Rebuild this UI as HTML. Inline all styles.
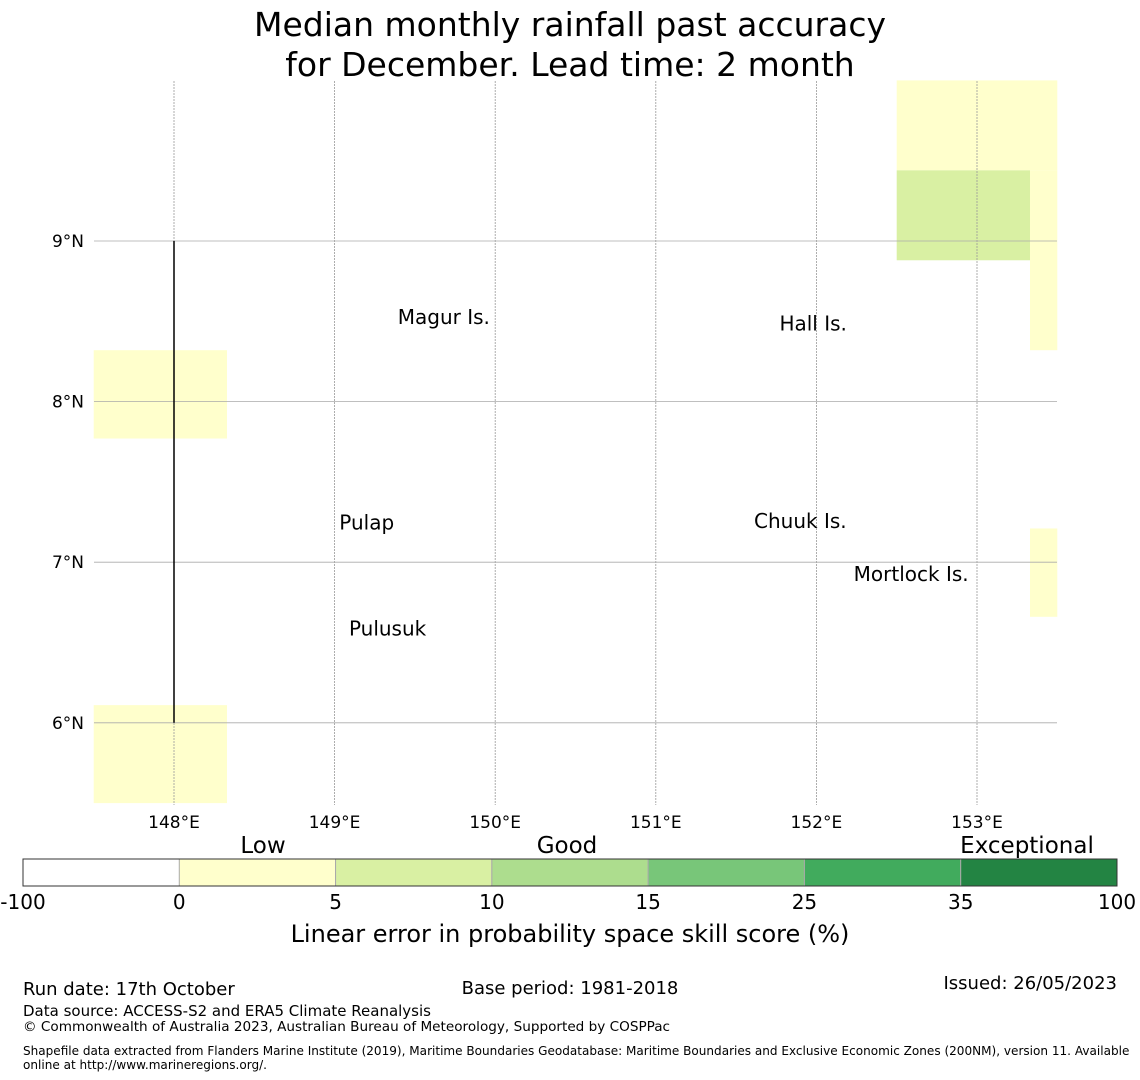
<!DOCTYPE html>
<html><head><meta charset="utf-8"><style>
body{margin:0;background:#fff;font-family:"DejaVu Sans","Liberation Sans",sans-serif;}
svg{display:block}
</style></head><body>
<svg id="chart" width="1140" height="1080" viewBox="0 0 1140 1080" xmlns="http://www.w3.org/2000/svg" font-family="DejaVu Sans, Liberation Sans, sans-serif">
<text x="570" y="36" font-size="33" text-anchor="middle">Median monthly rainfall past accuracy</text>
<text x="570" y="76" font-size="33" text-anchor="middle">for December. Lead time: 2 month</text>
<g id="cells"></g><g id="grid"></g><g id="places"></g><g id="axes"></g><g id="cbar"></g>
<text x="570" y="942" font-size="24" text-anchor="middle">Linear error in probability space skill score (%)</text>
<text x="23" y="995" font-size="18">Run date: 17th October</text>
<text x="570" y="994" font-size="18" text-anchor="middle">Base period: 1981-2018</text>
<text x="1117" y="989" font-size="18" text-anchor="end">Issued: 26/05/2023</text>
<text x="23" y="1016" font-size="15">Data source: ACCESS-S2 and ERA5 Climate Reanalysis</text>
<text x="23" y="1031" font-size="13.6">© Commonwealth of Australia 2023, Australian Bureau of Meteorology, Supported by COSPPac</text>
<text x="23" y="1055" font-size="12.05">Shapefile data extracted from Flanders Marine Institute (2019), Maritime Boundaries Geodatabase: Maritime Boundaries and Exclusive Economic Zones (200NM), version 11. Available</text>
<text x="23" y="1069" font-size="12.05">online at http://www.marineregions.org/.</text>
</svg>
<script>
const lonTicks=[148,149,150,151,152,153];
const latTicks=[6,7,8,9];
const cellLon0=[147.5,147.5,152.5,152.5,153.33,153.33];
const cellLon1=[148.33,148.33,153.5,153.33,153.5,153.5];
const cellLat0=[7.77,5.5,9.44,8.88,8.32,6.66];
const cellLat1=[8.32,6.11,10.0,9.44,9.44,7.21];
const cellLevel=[1,1,1,2,1,1];
const levelColors=["#ffffff","#ffffcc","#d9f0a3","#addd8e","#78c679","#41ab5d","#238443"];
const cbarTicks=["-100","0","5","10","15","25","35","100"];
const cbarLabels=["Low","Good","Exceptional"];
const placeNames=["Magur Is.","Hall Is.","Pulap","Chuuk Is.","Mortlock Is.","Pulusuk"];
const placeLon=[149.68,151.98,149.2,151.9,152.59,149.33];
const placeLat=[8.52,8.48,7.24,7.25,6.92,6.58];
const NS="http://www.w3.org/2000/svg";
const xs=lon=>174+(lon-148)*160.6;
const ys=lat=>241-(lat-9)*160.6;
function mk(tag,attrs,parent,txt){const e=document.createElementNS(NS,tag);for(const k in attrs)e.setAttribute(k,attrs[k]);if(txt!==undefined)e.textContent=txt;parent.appendChild(e);return e;}
const cellsG=document.getElementById('cells');
cellLon0.forEach((l,i)=>{const r=mk('rect',{x:xs(l),y:ys(cellLat1[i]),width:xs(cellLon1[i])-xs(l),height:ys(cellLat0[i])-ys(cellLat1[i]),fill:levelColors[cellLevel[i]]},cellsG);

});
const gridG=document.getElementById('grid');
const axesG=document.getElementById('axes');
const mapTop=81,mapBot=805,mapLeft=94,mapRight=1057;
lonTicks.forEach(t=>{const l=mk('line',{x1:xs(t),x2:xs(t),y1:mapTop,y2:mapBot,stroke:'#999','stroke-width':0.8,'stroke-dasharray':'2,1'},gridG);


const tx=mk('text',{x:xs(t),y:828,'font-size':17,'text-anchor':'middle'},axesG,t+'°E');

});
latTicks.forEach(t=>{const l=mk('line',{x1:mapLeft,x2:mapRight,y1:ys(t),y2:ys(t),stroke:'#aaa','stroke-width':0.8},gridG);


const tx=mk('text',{x:84,y:ys(t)+6,'font-size':17,'text-anchor':'end'},axesG,t+'°N');

});
const bl=mk('line',{x1:xs(148),x2:xs(148),y1:ys(9),y2:ys(6),stroke:'#000','stroke-width':1.5},gridG);


const placesG=document.getElementById('places');
placeNames.forEach((n,i)=>{const t=mk('text',{x:xs(placeLon[i]),y:ys(placeLat[i])+6,'font-size':20,'text-anchor':'middle'},placesG,n);

});
const cb=document.getElementById('cbar');
const cx0=23,cw=1094/7,cy=859,ch=27;
levelColors.forEach((c,i)=>{const r=mk('rect',{x:cx0+i*cw,y:cy,width:cw,height:ch,fill:c,stroke:i?'#aaa':'none','stroke-width':1},cb);

});
const fr=mk('rect',{x:cx0,y:cy,width:1094,height:ch,fill:'none',stroke:'#333','stroke-width':1},cb);


cbarTicks.forEach((t,i)=>{const tx=mk('text',{x:cx0+i*cw,y:909,'font-size':20,'text-anchor':'middle'},cb,t);

});
cbarLabels.forEach((t,i)=>{const tx=mk('text',{x:[263,567,1027][i],y:853,'font-size':23,'text-anchor':'middle'},cb,t);

});
</script>
</body></html>
